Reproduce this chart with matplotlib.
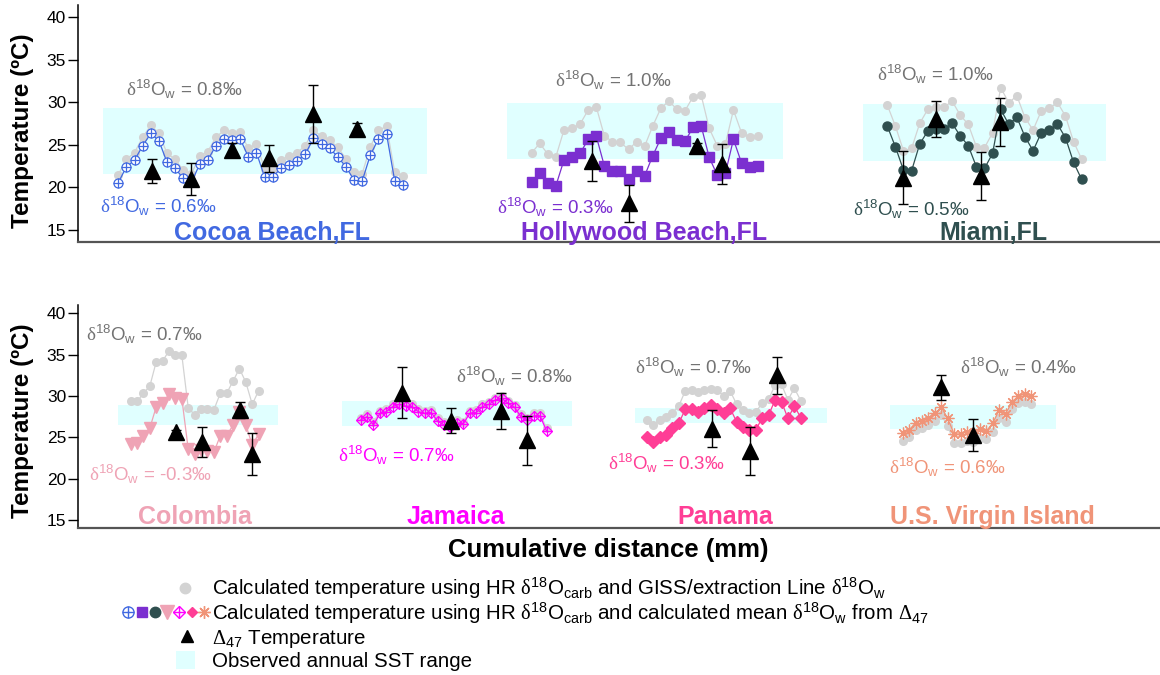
import numpy as np
import matplotlib
matplotlib.use("Agg")
import matplotlib.pyplot as plt
from matplotlib.patches import Rectangle

plt.rcParams["font.family"] = ["Liberation Sans", "DejaVu Sans"]
plt.rcParams["mathtext.fontset"] = "custom"
plt.rcParams["mathtext.rm"] = "Liberation Serif"
plt.rcParams["mathtext.it"] = "Liberation Sans:italic"
plt.rcParams["mathtext.bf"] = "Liberation Sans:bold"

# ----------------------------------------------------------------------
# data (cumulative distance in arbitrary plot units, temperature in degC)
# ----------------------------------------------------------------------
# Cocoa Beach, FL
cocoa_x0, cocoa_dx = 40.3, 8.13
cocoa_calc = [20.55, 22.43, 23.2, 24.9, 26.35, 25.5, 22.94, 22.24, 21.06, 20.6,
              22.7, 23.2, 24.9, 25.7, 25.6, 25.7, 23.6, 24.08, 21.25, 21.25,
              22.24, 22.6, 23.14, 23.9, 25.76, 25.1, 24.6, 23.6, 22.43, 20.86,
              20.75, 23.8, 25.7, 26.27, 20.8, 20.24]
cocoa_giss = [21.5, 23.3, 24.1, 25.9, 27.3, 26.4, 24.0, 23.3, 22.0, 21.6,
              23.7, 24.2, 25.9, 26.7, 26.4, 26.5, 24.6, 25.1, 22.2, 22.2,
              23.2, 23.7, 24.1, 24.9, 26.75, 26.0, 25.6, 24.7, 23.4, 21.8,
              21.6, 24.8, 26.7, 27.2, 21.8, 21.3]
cocoa_d47_x = [74, 113, 154, 191, 235, 279]
cocoa_d47 = [21.96, 21.0, 24.43, 23.41, 28.6, 26.88]
cocoa_d47_err = [1.4, 1.9, 0.82, 1.57, 3.4, 0.72]
cocoa_sst = [25, 349, 21.57, 29.37]

# Hollywood Beach, FL
holly_x0, holly_dx = 453.7, 8.07
holly_calc = [20.67, 21.73, 20.55, 20.2, 23.22, 23.53, 24.0, 25.65, 26.04, 22.55,
              21.96, 21.96, 20.98, 21.96, 21.37, 23.73, 25.76, 26.55, 25.57, 25.45,
              27.06, 27.25, 23.53, 21.45, 21.65, 25.65, 22.9, 22.43, 22.55]
holly_giss = [24.08, 25.18, 23.92, 23.61, 26.75, 26.94, 27.45, 29.1, 29.49, 26.08,
              25.37, 25.29, 24.47, 25.37, 24.86, 27.22, 29.3, 30.16, 29.18, 29.02,
              30.67, 30.86, 26.94, 24.9, 25.1, 29.1, 26.43, 25.88, 26.04]
holly_d47_x = [514, 550.7, 619.3, 643.7]
holly_d47 = [23.14, 18.12, 24.9, 22.76]
holly_d47_err = [2.35, 2.16, 0.3, 2.3]
holly_sst = [428.7, 704.7, 23.29, 29.88]

# Miami, FL
miami_x0, miami_dx = 809.3, 8.1
miami_calc = [27.22, 24.78, 22.04, 21.96, 25.1, 26.63, 26.82, 26.86, 27.53, 26.08,
              24.9, 22.43, 22.24, 24.0, 29.18, 27.41, 28.24, 25.96, 24.31, 26.43,
              26.75, 27.45, 25.84, 22.94, 20.94]
miami_giss = [29.69, 27.22, 24.31, 24.59, 27.53, 29.18, 29.41, 29.41, 30.16, 28.51,
              27.41, 24.78, 24.67, 26.43, 31.73, 29.96, 30.78, 28.2, 26.75, 28.98,
              29.29, 30.0, 28.39, 25.37, 23.33]
miami_d47_x = [825.3, 858, 902.7, 922.3]
miami_d47 = [21.16, 28.06, 21.35, 27.7]
miami_d47_err = [3.12, 2.1, 2.84, 2.84]
miami_sst = [785.3, 1028, 23.14, 29.8]

# Colombia
colom_x0, colom_dx = 52.7, 6.4
colom_calc = [24.19, 24.27, 25.2, 26.13, 28.71, 29.11, 30.24, 29.8, 29.68, 23.55,
              22.94, 23.47, 23.35, 23.19, 25.2, 25.2, 26.49, 28.06, 26.49, 24.07,
              25.4]
colom_giss = [29.44, 29.35, 30.32, 31.21, 34.15, 34.23, 35.48, 34.96, 34.92, 28.55,
              27.74, 28.47, 28.43, 28.31, 30.32, 30.32, 31.81, 33.31, 31.65, 28.99,
              30.65]
colom_d47_x = [97.7, 123.7, 162, 174.3]
colom_d47 = [25.69, 24.48, 28.27, 23.0]
colom_d47_err = [0.2, 1.81, 0.97, 2.56]
colom_sst = [39.7, 200.3, 26.5, 28.91]

# Jamaica
jam_x0, jam_dx = 282.7, 6.41
jam_calc = [27.1, 27.5, 26.49, 27.9, 28.1, 28.71, 28.99, 28.79, 28.71, 28.1,
            27.9, 27.98, 26.98, 26.49, 26.21, 26.77, 26.61, 27.9, 27.98, 28.71,
            28.99, 29.52, 29.72, 29.11, 28.63, 27.5, 27.1, 27.58, 27.58, 25.77]
jam_giss = [27.4, 27.8, 26.8, 28.2, 28.4, 29.0, 29.3, 29.1, 29.0, 28.4,
            28.2, 28.3, 27.3, 26.8, 26.5, 27.1, 26.9, 28.2, 28.3, 29.0,
            29.3, 29.8, 30.0, 29.4, 28.9, 27.8, 27.4, 27.9, 27.9, 26.1]
jam_d47_x = [324.3, 372.7, 423, 448.7]
jam_d47 = [30.38, 27.0, 28.15, 24.62]
jam_d47_err = [3.08, 1.51, 2.18, 2.96]
jam_sst = [263.7, 493.7, 26.41, 29.4]

# Panama
pan_x0, pan_dx = 568.7, 6.42
pan_calc = [25.08, 24.48, 25.08, 25.28, 26.09, 26.69, 28.39, 28.39, 28.1, 28.51,
            28.91, 28.39, 27.98, 28.51, 26.9, 26.29, 25.89, 25.89, 27.38, 27.7,
            29.52, 29.31, 27.3, 28.79, 27.38]
pan_giss = [27.1, 26.49, 27.1, 27.42, 27.98, 28.79, 30.6, 30.73, 30.52, 30.73,
            30.85, 30.73, 30.0, 30.6, 29.03, 28.31, 27.9, 28.1, 29.11, 29.6,
            31.33, 31.41, 29.52, 30.93, 29.44]
pan_d47_x = [634.3, 672, 698.7]
pan_d47 = [26.05, 23.37, 32.5]
pan_d47_err = [2.26, 2.92, 2.26]
pan_sst = [557, 748.7, 26.69, 28.59]

# U.S. Virgin Island
usvi_x0, usvi_dx = 824.7, 6.43
usvi_calc = [25.56, 25.89, 26.77, 27.02, 27.3, 27.9, 28.63, 27.3, 25.4, 25.4,
             25.69, 25.56, 25.97, 25.77, 26.69, 28.31, 27.82, 29.31, 30.0, 30.24,
             30.0]
usvi_giss = [24.6, 25.08, 25.89, 26.09, 26.49, 26.98, 27.7, 26.37, 24.35, 24.35,
             24.6, 24.48, 24.88, 24.76, 25.69, 27.3, 26.9, 28.43, 29.11, 29.31,
             29.03]
usvi_d47_x = [863, 895.3]
usvi_d47 = [31.03, 25.28]
usvi_d47_err = [1.51, 1.9]
usvi_sst = [812, 978, 25.97, 28.91]

# mean d18Ow labels (GISS / calculated from D47)
d18_giss = {"cocoa": "0.8", "holly": "1.0", "miami": "1.0", "colom": "0.7",
            "jam": "0.8", "pan": "0.7", "usvi": "0.4"}
d18_calc = {"cocoa": "0.6", "holly": "0.3", "miami": "0.5", "colom": "-0.3",
            "jam": "0.7", "pan": "0.3", "usvi": "0.6"}

GRAY = "#D3D3D3"
GRAY_TXT = "#737373"
SST_COL = "#E0FFFF"


def d18(val):
    return (r"$\mathrm{\delta}^{\mathregular{18}}$O$_{\mathregular{w}}$"
            + f" = {val}\u2030")


def draw_site(ax, x0, dx, giss, calc, d47x, d47, d47err, sst, color, styles):
    x = x0 + dx * np.arange(len(calc))
    ax.add_patch(Rectangle((sst[0], sst[2]), sst[1] - sst[0], sst[3] - sst[2],
                           facecolor=SST_COL, edgecolor="none", zorder=0))
    ax.plot(x, giss, "-", color=GRAY, lw=0.9, marker="o", ms=5.5, zorder=2)
    ax.plot(x, calc, "-", color=color, lw=0.9, zorder=3)
    for st in styles:
        ax.plot(x, calc, ls="none", color=color, zorder=3, **st)
    ax.errorbar(d47x, d47, yerr=d47err, fmt="^", color="black", ms=11,
                ecolor="black", elinewidth=1, capsize=3.5, capthick=1, zorder=5)


def style_axis(ax, ylim):
    ax.set_xlim(0, 1082)
    ax.set_ylim(*ylim)
    ax.set_yticks([15, 20, 25, 30, 35, 40])
    ax.set_xticks([])
    ax.spines["top"].set_visible(False)
    ax.spines["right"].set_visible(False)
    ax.spines["left"].set_linewidth(1.1)
    ax.spines["bottom"].set_color("#555555")
    ax.spines["bottom"].set_linewidth(1.6)
    ax.tick_params(axis="y", labelsize=12.5, length=7, width=1, pad=1.5)
    ax.patch.set_alpha(0)


fig = plt.figure(figsize=(11.6, 6.75), dpi=100)
ax1 = fig.add_axes([0.0672, 0.6415, 0.9328, 0.3511])
ax2 = fig.add_axes([0.0672, 0.2173, 0.9328, 0.3308])

# site colours / marker styles
C_COCOA, C_HOLLY, C_MIAMI = "#4169E1", "#7B2FD0", "#2F4F4F"
C_COLOM, C_JAM, C_PAN, C_USVI = "#EFA3B5", "#FF00FF", "#FF3E96", "#F09478"

st_cocoa = [dict(marker="o", ms=6.5, mfc="white", mew=0.9), dict(marker="+", ms=6.5, mew=0.9)]
st_holly = [dict(marker="s", ms=6.5)]
st_miami = [dict(marker="o", ms=6.5)]
st_colom = [dict(marker="v", ms=8.5)]
st_jam = [dict(marker="D", ms=5.5, mfc="none", mew=0.9), dict(marker="+", ms=7.5, mew=0.9)]
st_pan = [dict(marker="D", ms=6)]
st_usvi = [dict(marker=(8, 2, 0), ms=8.5, mew=0.9)]

draw_site(ax1, cocoa_x0, cocoa_dx, cocoa_giss, cocoa_calc, cocoa_d47_x, cocoa_d47,
          cocoa_d47_err, cocoa_sst, C_COCOA, st_cocoa)
draw_site(ax1, holly_x0, holly_dx, holly_giss, holly_calc, holly_d47_x, holly_d47,
          holly_d47_err, holly_sst, C_HOLLY, st_holly)
draw_site(ax1, miami_x0, miami_dx, miami_giss, miami_calc, miami_d47_x, miami_d47,
          miami_d47_err, miami_sst, C_MIAMI, st_miami)
draw_site(ax2, colom_x0, colom_dx, colom_giss, colom_calc, colom_d47_x, colom_d47,
          colom_d47_err, colom_sst, C_COLOM, st_colom)
draw_site(ax2, jam_x0, jam_dx, jam_giss, jam_calc, jam_d47_x, jam_d47,
          jam_d47_err, jam_sst, C_JAM, st_jam)
draw_site(ax2, pan_x0, pan_dx, pan_giss, pan_calc, pan_d47_x, pan_d47,
          pan_d47_err, pan_sst, C_PAN, st_pan)
draw_site(ax2, usvi_x0, usvi_dx, usvi_giss, usvi_calc, usvi_d47_x, usvi_d47,
          usvi_d47_err, usvi_sst, C_USVI, st_usvi)

style_axis(ax1, (13.59, 41.45))
style_axis(ax2, (14.0, 41.0))

# labels: (axis, key, colour, title, gray xy, calc xy, title xy)
labels = [
    (ax1, "cocoa", C_COCOA, "Cocoa Beach,FL", (48, 30.8), (22, 17.05), (194.5, 13.85)),
    (ax1, "holly", C_HOLLY, "Hollywood Beach,FL", (477, 31.78), (419.3, 16.9), (566.5, 13.85)),
    (ax1, "miami", C_MIAMI, "Miami,FL", (799.3, 32.55), (775.3, 16.7), (915, 13.85)),
    (ax2, "colom", C_COLOM, "Colombia", (8, 36.7), (11.3, 19.77), (117.3, 14.5)),
    (ax2, "jam", C_JAM, "Jamaica", (378, 31.6), (260.3, 22.0), (378.3, 14.5)),
    (ax2, "pan", C_PAN, "Panama", (557, 32.7), (530.3, 21.0), (647, 14.5)),
    (ax2, "usvi", C_USVI, "U.S. Virgin Island", (882, 32.7), (811.3, 20.6), (914.5, 14.5)),
]
for ax, key, col, title, gxy, cxy, txy in labels:
    ax.text(gxy[0], gxy[1], d18(d18_giss[key]), color=GRAY_TXT, fontsize=13.5,
            ha="left", va="baseline", zorder=6)
    ax.text(cxy[0], cxy[1], d18(d18_calc[key]), color=col, fontsize=13.5,
            ha="left", va="baseline", zorder=6)
    ax.text(txy[0], txy[1], title, color=col, fontsize=18, fontweight="bold",
            ha="center", va="baseline", zorder=6)

for yc in (131, 421):
    fig.text(23 / 1160, 1 - yc / 675, "Temperature (\u00baC)", rotation=90,
             fontsize=17.5, fontweight="bold", ha="center", va="center")
fig.text(608 / 1160, 1 - 550 / 675, "Cumulative distance (mm)", fontsize=18.5,
         fontweight="bold", ha="center", va="center")

# ---- legend, laid out in figure pixels ----
lg = fig.add_axes([0, 0, 1, 1], zorder=-1)
lg.set_xlim(0, 1160)
lg.set_ylim(675, 0)
lg.axis("off")

d18carb = r"$\mathrm{\delta}^{\mathregular{18}}$O$_{\mathregular{carb}}$"
d18w = r"$\mathrm{\delta}^{\mathregular{18}}$O$_{\mathregular{w}}$"
d47 = r"$\Delta_{\mathregular{47}}$"
leg_texts = [
    "Calculated temperature using HR " + d18carb + " and GISS/extraction Line " + d18w,
    "Calculated temperature using HR " + d18carb + " and calculated mean " + d18w + " from " + d47,
    d47 + " Temperature",
    "Observed annual SST range",
]
leg_base = [595, 620, 643.5, 667]
for txt, yb in zip(leg_texts, leg_base):
    lg.text(212, yb, txt, fontsize=14.8, ha="left", va="baseline")

lg.plot([185], [588], "o", color=GRAY, ms=7.5)
row2 = [(128, C_COCOA, [dict(marker="o", ms=8, mfc="white", mew=1), dict(marker="+", ms=8, mew=1)]),
        (142, C_HOLLY, [dict(marker="s", ms=7.5)]),
        (155, C_MIAMI, [dict(marker="o", ms=7.5)]),
        (167, C_COLOM, [dict(marker="v", ms=10)]),
        (179, C_JAM, [dict(marker="D", ms=6.5, mfc="none", mew=1), dict(marker="+", ms=9, mew=1)]),
        (192, C_PAN, [dict(marker="D", ms=5)]),
        (204, C_USVI, [dict(marker=(8, 2, 0), ms=9, mew=1)])]
for xm, col, sts in row2:
    for st in sts:
        lg.plot([xm], [612], ls="none", color=col, **st)
lg.plot([187], [636], "^", color="black", ms=9)
lg.add_patch(Rectangle((175.5, 651), 19, 18, facecolor=SST_COL, edgecolor="none"))

fig.savefig("out.png", dpi=100)
